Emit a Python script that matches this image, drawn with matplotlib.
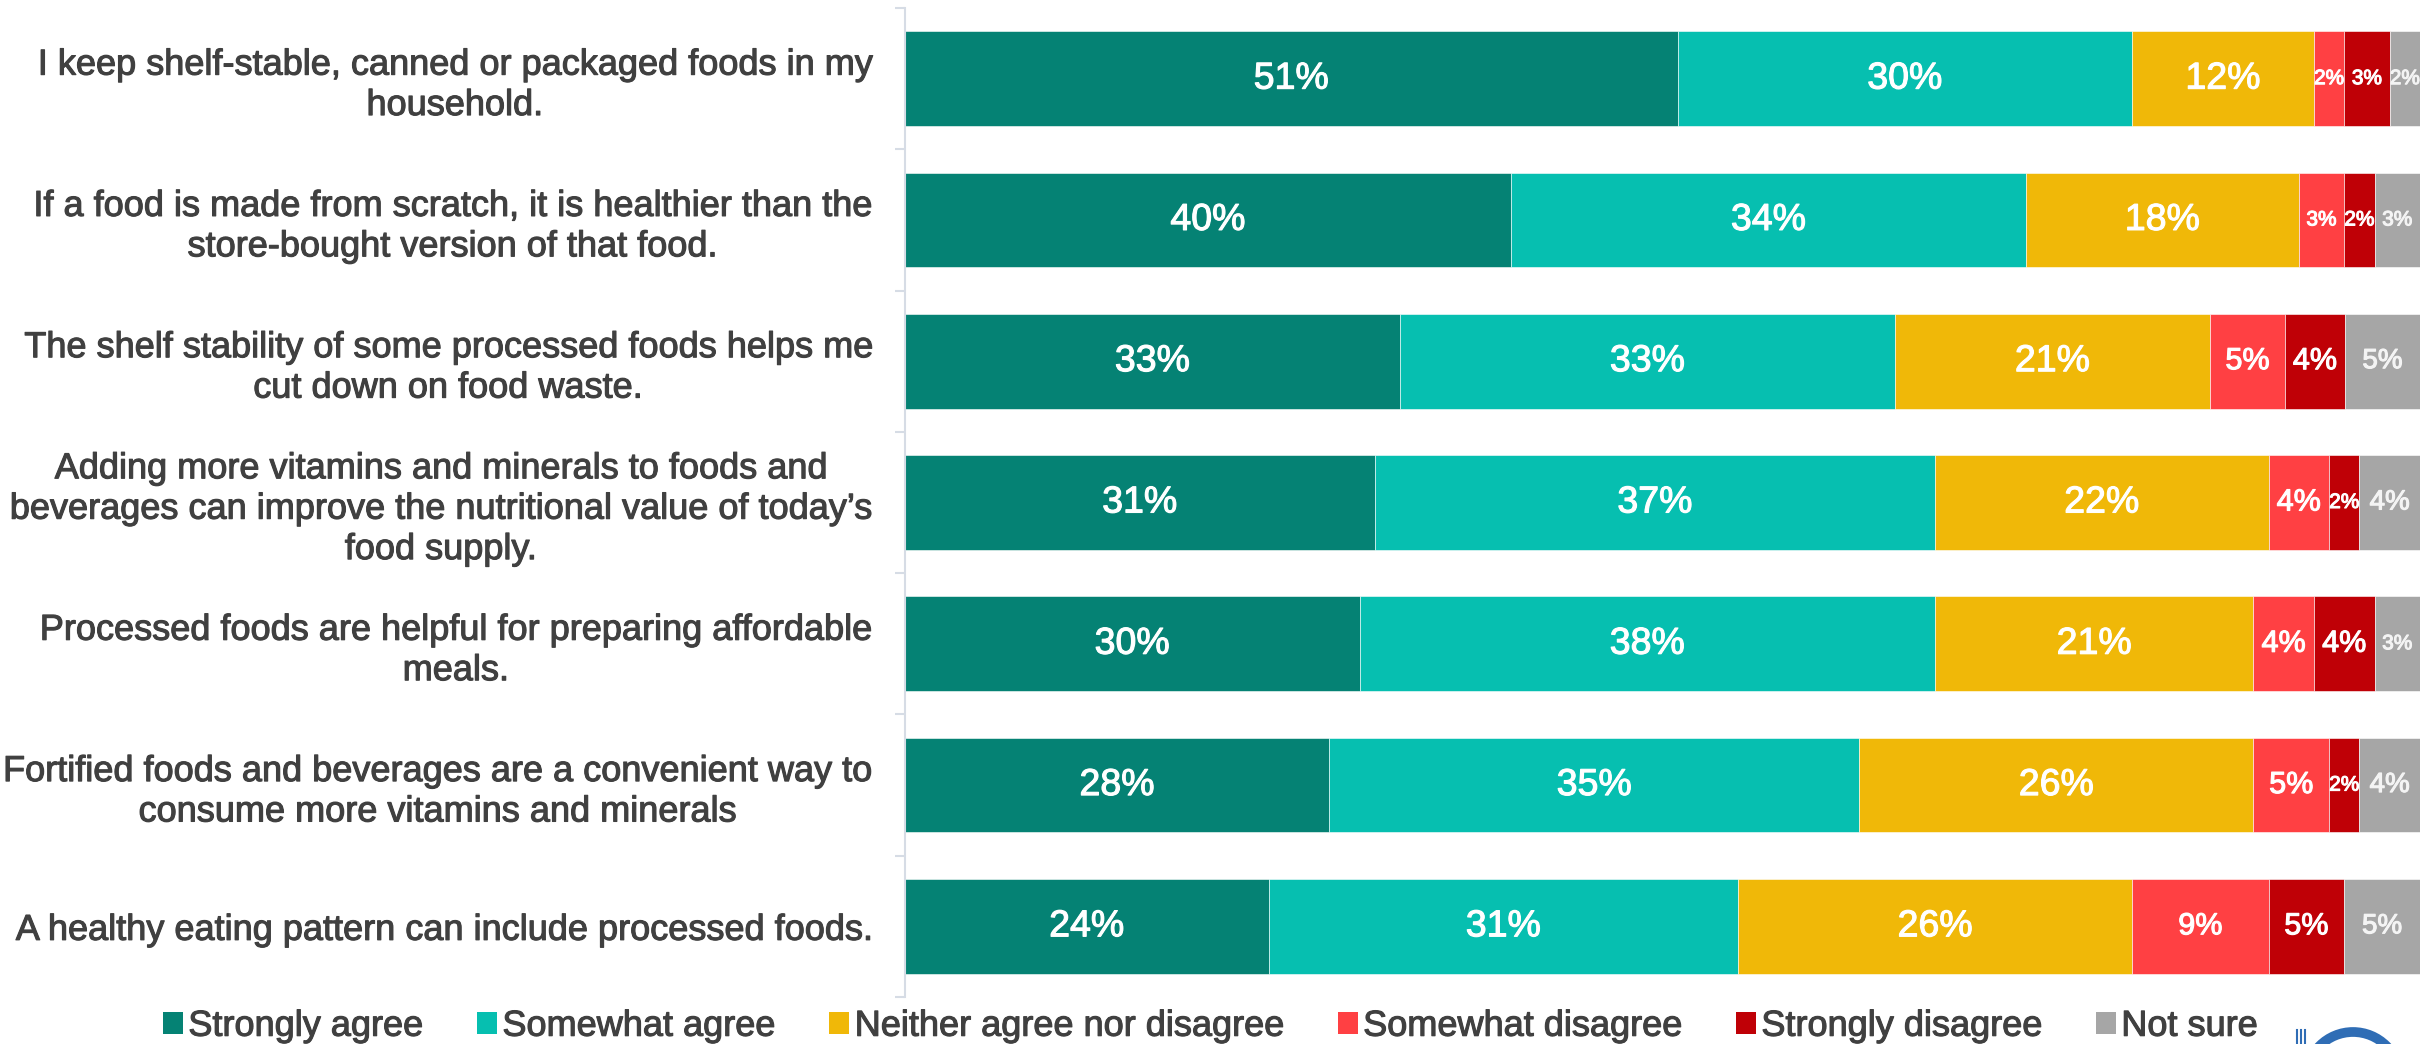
import matplotlib.pyplot as plt
import matplotlib.patheffects as pe
import numpy as np
from matplotlib.patches import Patch, Circle

plt.rcParams['font.family'] = ['Liberation Sans', 'DejaVu Sans']

statements = [
    "I keep shelf-stable, canned or packaged foods in my\nhousehold.",
    "If a food is made from scratch, it is healthier than the\nstore-bought version of that food.",
    "The shelf stability of some processed foods helps me\ncut down on food waste.",
    "Adding more vitamins and minerals to foods and\nbeverages can improve the nutritional value of today\u2019s\nfood supply.",
    "Processed foods are helpful for preparing affordable\nmeals.",
    "Fortified foods and beverages are a convenient way to\nconsume more vitamins and minerals",
    "A healthy eating pattern can include processed foods.",
]
responses = ["Strongly agree", "Somewhat agree", "Neither agree nor disagree",
             "Somewhat disagree", "Strongly disagree", "Not sure"]

strongly_agree = [51, 40, 33, 31, 30, 28, 24]
somewhat_agree = [30, 34, 33, 37, 38, 35, 31]
neither = [12, 18, 21, 22, 21, 26, 26]
somewhat_disagree = [2, 3, 5, 4, 4, 5, 9]
strongly_disagree = [3, 2, 4, 2, 4, 2, 5]
not_sure = [2, 3, 5, 4, 3, 4, 5]

colors = ["#058274", "#06BFB0", "#F0B808", "#FF4043", "#BF0006", "#A6A6A6"]
label_colors = ["white", "white", "white", "white", "white", "#F4F4F4"]
text_gray = "#404040"

data = np.array([strongly_agree, somewhat_agree, neither,
                 somewhat_disagree, strongly_disagree, not_sure], dtype=float)
# each row is scaled to a full 100% bar
shares = data / data.sum(axis=0) * 100

fig = plt.figure(figsize=(24.33, 10.44), dpi=100)
ax = fig.add_axes([905 / 2433, 47 / 1044, (2420 - 905) / 2433, (1036 - 47) / 1044])

y = np.arange(len(statements))
left = np.zeros(len(statements))
for i, resp in enumerate(responses):
    ax.barh(y, shares[i], left=left, height=0.67, color=colors[i],
            edgecolor="white", linewidth=0.4, label=resp)
    for j in range(len(statements)):
        v = int(data[i, j])
        if v >= 10:
            fs = 27
        elif v >= 4:
            fs = 22 if i < 5 else 20
        else:
            fs = 15
        ax.text(left[j] + shares[i, j] / 2, y[j], f"{v}%", ha="center", va="center",
                color=label_colors[i], fontsize=fs,
                path_effects=[pe.withStroke(linewidth=0.8, foreground=label_colors[i])])
    left += shares[i]

ax.set_xlim(0, 100)
ax.set_ylim(len(statements) - 0.5, -0.5)
ax.set_xticks([])
ax.set_yticks(y)
ax.set_yticklabels(statements, fontsize=26, color=text_gray, multialignment="center",
                   linespacing=1.2)
for t in ax.get_yticklabels():
    t.set_path_effects([pe.withStroke(linewidth=0.8, foreground=text_gray)])
ax.tick_params(axis="y", which="major", length=0, pad=24)
ax.set_yticks(np.arange(-0.5, len(statements)), minor=True)
ax.tick_params(axis="y", which="minor", length=7, width=1.5, color="#D6DCE5", direction="out")
for side in ["top", "right", "bottom"]:
    ax.spines[side].set_visible(False)
ax.spines["left"].set_color("#D6DCE5")
ax.spines["left"].set_linewidth(1.5)

handles = [Patch(facecolor=c, edgecolor="none") for c in colors]
leg = fig.legend(handles, responses, loc="center", bbox_to_anchor=(0.4975, 0.017), ncol=6,
                 frameon=False, fontsize=26, labelcolor=text_gray, handlelength=0.55,
                 handleheight=0.55, handletextpad=0.15, columnspacing=1.5)
for t in leg.get_texts():
    t.set_path_effects([pe.withStroke(linewidth=0.8, foreground=text_gray)])

# logo fragment in the corner
fig.add_artist(Circle((23.53, -0.35), 0.47, transform=fig.dpi_scale_trans,
                      fill=False, edgecolor="#2F6DB5", linewidth=7))
for xp in [2297, 2301, 2305]:
    fig.add_artist(plt.Line2D([xp / 2433, xp / 2433], [0, 14 / 1044],
                              color="#2F6DB5", linewidth=1.5))

fig.savefig("out.png", dpi=100)
